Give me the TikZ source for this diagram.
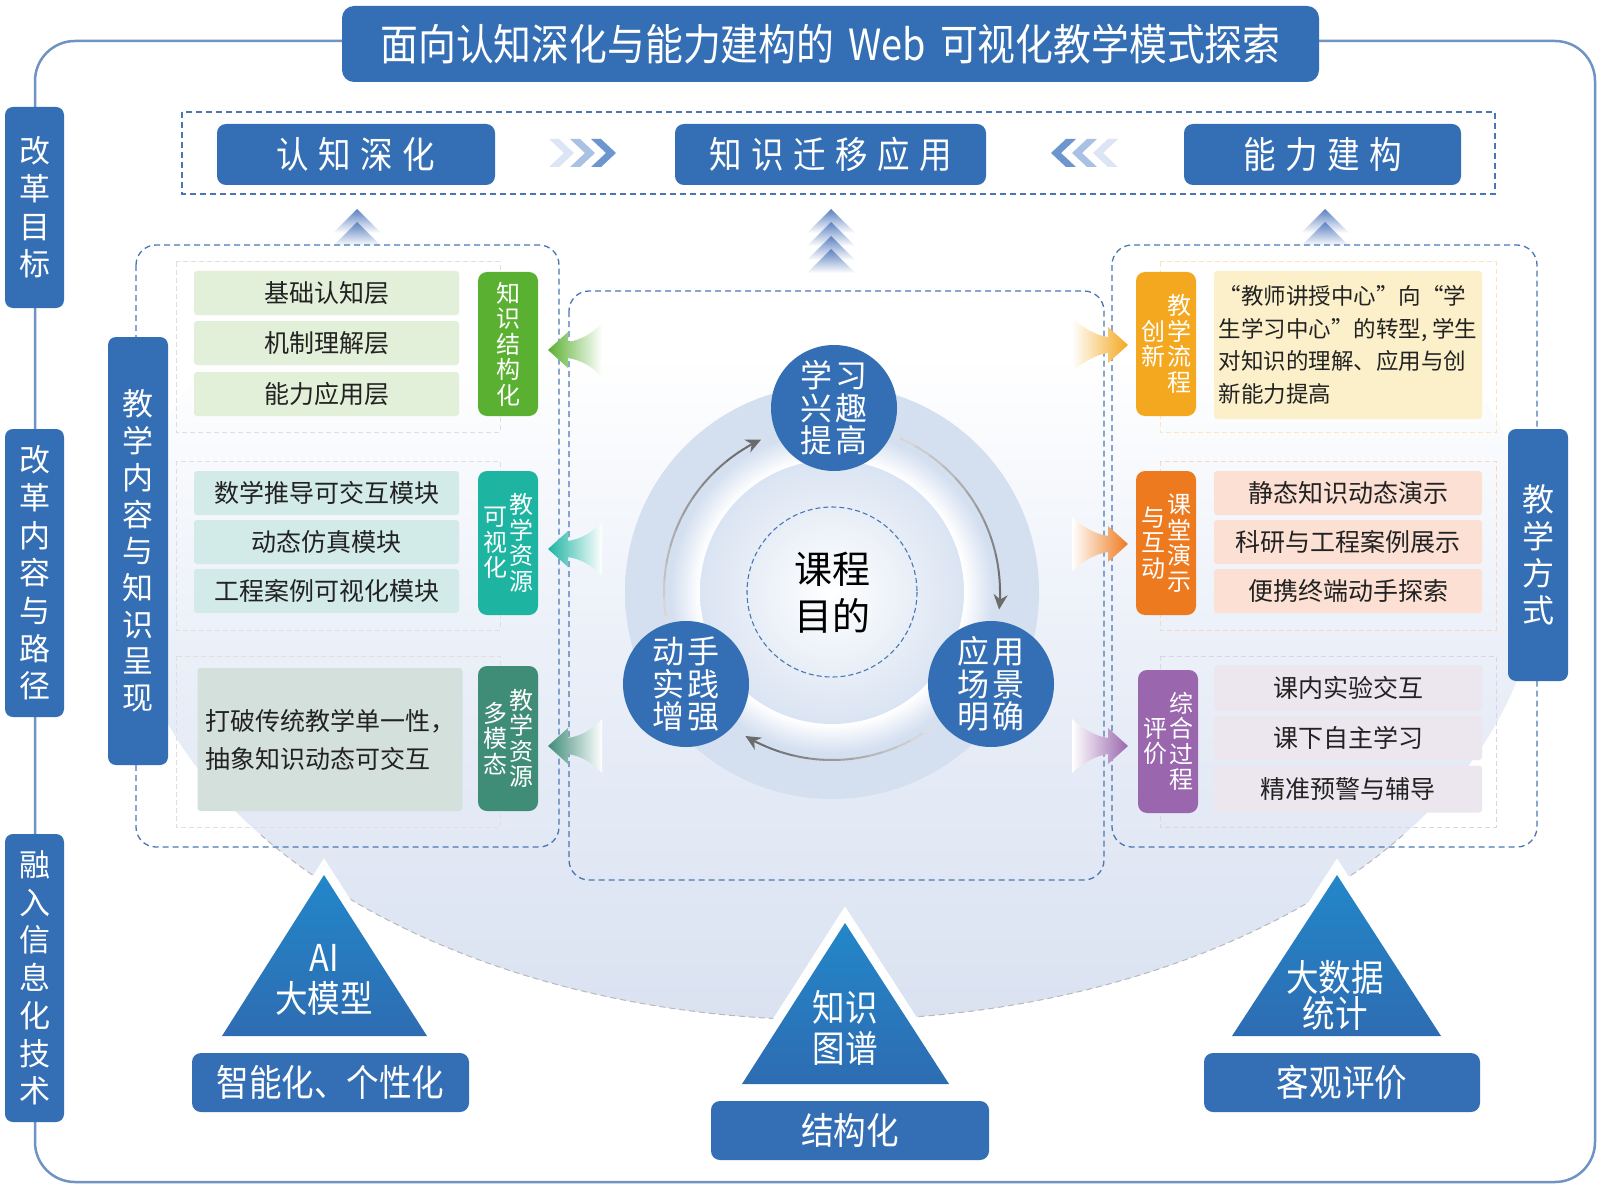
\documentclass[tikz,border=0pt]{standalone}
\usepackage{fontspec}
\newfontfamily\cjk{Noto Sans CJK SC}
\newfontfamily\cjkn[FakeStretch=0.88]{Noto Sans CJK SC}
\usetikzlibrary{arrows.meta}
\definecolor{mainblue}{HTML}{346EB4}
\definecolor{dashblue}{HTML}{4A77B4}
\definecolor{frameC}{HTML}{6F93C2}
\definecolor{ringblue}{HTML}{D4DFF0}
\definecolor{bgb}{HTML}{DAE2F1}
\definecolor{bgm}{HTML}{EAEFF8}
\definecolor{triA}{HTML}{2287C9}
\definecolor{triB}{HTML}{2E6CB2}
\definecolor{tagG}{HTML}{5AB031}
\definecolor{boxG}{HTML}{E2EFD9}
\definecolor{tagT}{HTML}{1DB4A2}
\definecolor{boxT}{HTML}{D2EBE9}
\definecolor{tagD}{HTML}{3F8C77}
\definecolor{boxD}{HTML}{D4E0DC}
\definecolor{tagY}{HTML}{F3A81F}
\definecolor{boxY}{HTML}{FBF0CA}
\definecolor{tagO}{HTML}{EE7A1F}
\definecolor{boxO}{HTML}{FCE0D3}
\definecolor{tagP}{HTML}{9A66AD}
\definecolor{boxP}{HTML}{ECE6EF}
\definecolor{upblue}{HTML}{5B80C0}
\definecolor{chvA}{HTML}{DCE5F3}
\definecolor{chvB}{HTML}{A9C1E2}
\definecolor{chvC}{HTML}{6D95CF}
\definecolor{txt}{HTML}{222222}
\pgfdeclareverticalshading{bgsh}{100bp}{color(0bp)=(bgb); color(25bp)=(bgb); color(45bp)=(bgm); color(62bp)=(white); color(100bp)=(white)}
\pgfdeclareradialshading{ringsh}{\pgfpoint{0bp}{0bp}}{color(0bp)=(white); color(16bp)=(white); color(19.5bp)=(ringblue); color(25bp)=(ringblue); color(50bp)=(ringblue)}
\newcommand\fs[2]{\fontsize{#1}{#2}\selectfont}
\newcommand\fanL[3]{\begin{scope}[shift={(#1,#2)}]
\shade[left color=#3, middle color=#3!75, right color=white] (0,0) -- (20,-18) -- (20,-8) .. controls (33,-10) and (45,-17) .. (54,-27) -- (54,27) .. controls (45,17) and (33,10) .. (20,8) -- (20,18) -- cycle;
\end{scope}}
\newcommand\fanR[3]{\begin{scope}[shift={(#1,#2)}]
\shade[right color=#3, middle color=#3!75, left color=white] (0,0) -- (-20,-18) -- (-20,-8) .. controls (-33,-10) and (-45,-17) .. (-56,-27) -- (-56,27) .. controls (-45,17) and (-33,10) .. (-20,8) -- (-20,18) -- cycle;
\end{scope}}
\newcommand\garc[2]{%
 \foreach \k in {0,...,11}{%
   \pgfmathsetmacro\aa{#1+(#2-8-#1)*\k/12}%
   \pgfmathsetmacro\bb{#1+(#2-8-#1)*(\k+1)/12}%
   \pgfmathtruncatemacro\cc{12+4*\k}%
   \draw[line width=2pt, color=black!\cc] (832,592) ++(\aa:168) arc[start angle=\aa, end angle=\bb, radius=168];
 }%
 \pgfmathsetmacro\dd{#2-8}%
 \draw[line width=2pt, black!58, -{Stealth[length=15pt,width=14pt]}] (832,592) ++(\dd:168) arc[start angle=\dd, end angle=#2, radius=168];
}
\newcommand\chevR[2]{\fill[#2] (#1,139) -- ++(10,0) -- ++(15,14) -- ++(-15,14) -- ++(-10,0) -- ++(15,-14) -- cycle;}
\newcommand\chevL[2]{\fill[#2] (#1,153) -- ++(15,-14) -- ++(10,0) -- ++(-15,14) -- ++(15,14) -- ++(-10,0) -- cycle;}
\newcommand\upT[2]{\shade[top color=upblue, bottom color=white] (#1,#2) -- ++(24,24) -- ++(-48,0) -- cycle;}
\begin{document}
\begin{tikzpicture}[x=1pt,y=-1pt,
  bbox/.style={fill=mainblue, rounded corners=9pt, text=white, inner sep=0pt, align=center},
  lbox/.style={rounded corners=3pt, inner sep=0pt, align=center, text=txt, font=\cjk\fs{25}{30}, minimum height=44},
  tagbox/.style={rounded corners=9pt, inner sep=0pt, minimum width=60},
  tagtext/.style={text=white, align=center, inner sep=0pt, font=\cjk\fs{24}{25.5}},
  dashb/.style={draw=dashblue, line width=1.3pt, dash pattern=on 6pt off 4pt},
  faint/.style={draw=#1, line width=1pt, dash pattern=on 5pt off 3pt},
  frameline/.style={draw=frameC, line width=2.5pt},
  circ/.style={circle, fill=mainblue, minimum size=126, inner sep=0pt, text=white, align=center, font=\cjk\fs{32}{32.5}},
  tritext/.style={text=white, align=center, inner sep=0pt, font=\cjkn\fs{37}{41}}
]
\useasboundingbox (0,0) rectangle (1600,1190);
\fill[white] (0,0) rectangle (1600,1190);
% background ellipse
\shade[shading=bgsh] (832,571) ellipse [x radius=706, y radius=449];
\draw[gray!55, line width=1pt, dash pattern=on 6pt off 4pt] (832,571) ++(36:706 and 449) arc[start angle=36, end angle=144, x radius=706, y radius=449];
% outer frame
\draw[frameline, rounded corners=40pt] (35,41) rectangle (1595,1182);
% top goal row
\draw[dashb] (182,112) rectangle (1495,194);
\node[bbox, minimum width=278, minimum height=61, font=\cjkn\fs{37}{37}] (g1) at (356,154.5) {认\hspace{9.5pt}知\hspace{9.5pt}深\hspace{9.5pt}化};
\node[bbox, minimum width=311, minimum height=61, font=\cjkn\fs{37}{37}] (g2) at (830.5,154.5) {知\hspace{9.5pt}识\hspace{9.5pt}迁\hspace{9.5pt}移\hspace{9.5pt}应\hspace{9.5pt}用};
\node[bbox, minimum width=277, minimum height=61, font=\cjkn\fs{37}{37}] (g3) at (1322.5,154.5) {能\hspace{9.5pt}力\hspace{9.5pt}建\hspace{9.5pt}构};
\chevR{549}{chvA}\chevR{570}{chvB}\chevR{591}{chvC}
\chevL{1051}{chvC}\chevL{1072}{chvB}\chevL{1093}{chvA}
% upward arrows
\upT{357}{209}\upT{357}{222}
\upT{831}{209}\upT{831}{222}\upT{831}{236}\upT{831}{249}
\upT{1325}{209}\upT{1325}{222}
% panels
\draw[dashb, rounded corners=20pt] (136,245) rectangle (559,847);
\draw[dashb, rounded corners=20pt] (569,291) rectangle (1104,880);
\draw[dashb, rounded corners=20pt] (1112,245) rectangle (1537,847);
% center rings
\shade[shading=ringsh] (832,592) circle (207);
\shade[inner color=white, outer color=ringblue!85] (832,592) circle (132);
\draw[dashb, line width=1.1pt, dash pattern=on 5pt off 3pt] (832,592) circle (85);
\garc{-72}{6}
\garc{52}{121}
\garc{166}{245}
\node[circ] (c1) at (834,408) {学\hspace{3pt}习\\兴\hspace{3pt}趣\\提\hspace{3pt}高};
\node[circ] (c2) at (991,684) {应\hspace{3pt}用\\场\hspace{3pt}景\\明\hspace{3pt}确};
\node[circ] (c3) at (686,684) {动\hspace{3pt}手\\实\hspace{3pt}践\\增\hspace{3pt}强};
\node[text=black, align=center, inner sep=0pt, font=\cjk\fs{38}{47}] (goal) at (832,593) {课程\\目的};
% left panel
\draw[faint=gray!25] (176,262) rectangle (500,432);
\draw[faint=gray!25] (176,461) rectangle (500,630);
\draw[faint=gray!25] (176,656) rectangle (500,827);
\node[lbox, fill=boxG, minimum width=265] (l1) at (326.5,293) {基础认知层};
\node[lbox, fill=boxG, minimum width=265] (l2) at (326.5,343) {机制理解层};
\node[lbox, fill=boxG, minimum width=265] (l3) at (326.5,394) {能力应用层};
\node[lbox, fill=boxT, minimum width=265] (l4) at (326.5,493) {数学推导可交互模块};
\node[lbox, fill=boxT, minimum width=265] (l5) at (326.5,542) {动态仿真模块};
\node[lbox, fill=boxT, minimum width=265] (l6) at (326.5,591) {工程案例可视化模块};
\node[lbox, fill=boxD, minimum width=265, minimum height=143, align=left, font=\cjk\fs{25}{38}] (l7) at (330,739.5) {打破传统教学单一性，\\抽象知识动态可交互};
\node[tagbox, fill=tagG, minimum height=144] (tg1) at (508,344) {};
\node[tagtext] (tg1a) at (508,344) {知\\识\\结\\构\\化};
\node[tagbox, fill=tagT, minimum height=144] (tg2) at (508,543) {};
\node[tagtext] (tg2a) at (521,543) {教\\学\\资\\源};
\node[tagtext] (tg2b) at (495,543) {可\\视\\化};
\node[tagbox, fill=tagD, minimum height=145] (tg3) at (508,738.5) {};
\node[tagtext] (tg3a) at (521,738.5) {教\\学\\资\\源};
\node[tagtext] (tg3b) at (495,738.5) {多\\模\\态};
\fanL{548}{350}{tagG}
\fanL{548}{549}{tagT}
\fanL{548}{746}{tagD}
% right panel
\draw[faint=tagY!30] (1160,262) rectangle (1496,432);
\draw[faint=tagO!30] (1160,461) rectangle (1496,630);
\draw[faint=tagP!30] (1160,656) rectangle (1496,827);
\node[lbox, fill=boxY, minimum width=268, minimum height=148, align=left, font=\cjk\fs{22.5}{32.5}] (r0) at (1348,345) {“教师讲授中心”向“学\\生学习中心”的转型, 学生\\对知识的理解、应用与创\\新能力提高};
\node[lbox, fill=boxO, minimum width=268] (r1) at (1348,493) {静态知识动态演示};
\node[lbox, fill=boxO, minimum width=268] (r2) at (1348,542) {科研与工程案例展示};
\node[lbox, fill=boxO, minimum width=268] (r3) at (1348,591) {便携终端动手探索};
\node[lbox, fill=boxP, minimum width=268, minimum height=46] (r4) at (1348,688) {课内实验交互};
\node[lbox, fill=boxP, minimum width=268, minimum height=44] (r5) at (1348,738) {课下自主学习};
\node[lbox, fill=boxP, minimum width=268, minimum height=47] (r6) at (1348,789) {精准预警与辅导};
\node[tagbox, fill=tagY, minimum height=144] (tr1) at (1166,344) {};
\node[tagtext] (tr1a) at (1179,344) {教\\学\\流\\程};
\node[tagtext] (tr1b) at (1153,344) {创\\新};
\node[tagbox, fill=tagO, minimum height=144] (tr2) at (1166,543) {};
\node[tagtext] (tr2a) at (1179,543) {课\\堂\\演\\示};
\node[tagtext] (tr2b) at (1153,543) {与\\互\\动};
\node[tagbox, fill=tagP, minimum height=143] (tr3) at (1168,741.5) {};
\node[tagtext] (tr3a) at (1181,741.5) {综\\合\\过\\程};
\node[tagtext] (tr3b) at (1155,741.5) {评\\价};
\fanR{1128}{345}{tagY}
\fanR{1128}{544}{tagO}
\fanR{1128}{746}{tagP}
% side labels of panels
\node[bbox, rounded corners=8pt, minimum width=60, minimum height=428, font=\cjk\fs{31}{36.7}] (pl) at (138,551) {教\\学\\内\\容\\与\\知\\识\\呈\\现};
\node[bbox, rounded corners=8pt, minimum width=60, minimum height=252, font=\cjk\fs{32}{37}] (pr) at (1538,555) {教\\学\\方\\式};
% triangles
\draw[white, line width=18pt, line join=miter] (324,875) -- (222,1036) -- (427,1036) -- cycle;
\shade[top color=triA, bottom color=triB] (324,875) -- (222,1036) -- (427,1036) -- cycle;
\draw[white, line width=18pt, line join=miter] (845,923) -- (742,1084) -- (949,1084) -- cycle;
\shade[top color=triA, bottom color=triB] (845,923) -- (742,1084) -- (949,1084) -- cycle;
\draw[white, line width=18pt, line join=miter] (1337,875) -- (1232,1036) -- (1441,1036) -- cycle;
\shade[top color=triA, bottom color=triB] (1337,875) -- (1232,1036) -- (1441,1036) -- cycle;
\node[tritext] (t1) at (324,980) {AI\\大模型};
\node[tritext] (t2) at (845,1028) {知识\\图谱};
\node[tritext, font=\cjkn\fs{37}{36}] (t3) at (1335,995) {大数据\\统计};
\node[bbox, minimum width=277, minimum height=59, font=\cjkn\fs{37}{37}] (b1) at (330.5,1082.5) {智能化、个性化};
\node[bbox, minimum width=278, minimum height=59, font=\cjkn\fs{37}{37}] (b2) at (850,1130.5) {结构化};
\node[bbox, minimum width=276, minimum height=59, font=\cjkn\fs{37}{37}] (b3) at (1342,1082.5) {客观评价};
% title
\node[bbox, rounded corners=12pt, minimum width=977, minimum height=76, font=\cjkn\fs{43}{43}] (title) at (830.5,44) {面向认知深化与能力建构的\hspace{14pt}Web\hspace{14pt}可视化教学模式探索};
% left frame labels
\node[bbox, rounded corners=8pt, minimum width=59, minimum height=201, font=\cjk\fs{31}{37.7}] (L1) at (34.5,207.5) {改\\革\\目\\标};
\node[bbox, rounded corners=8pt, minimum width=59, minimum height=288, font=\cjk\fs{31}{37.7}] (L2) at (34.5,573) {改\\革\\内\\容\\与\\路\\径};
\node[bbox, rounded corners=8pt, minimum width=59, minimum height=288, font=\cjk\fs{31}{37.7}] (L3) at (34.5,978) {融\\入\\信\\息\\化\\技\\术};
\end{tikzpicture}
\end{document}
